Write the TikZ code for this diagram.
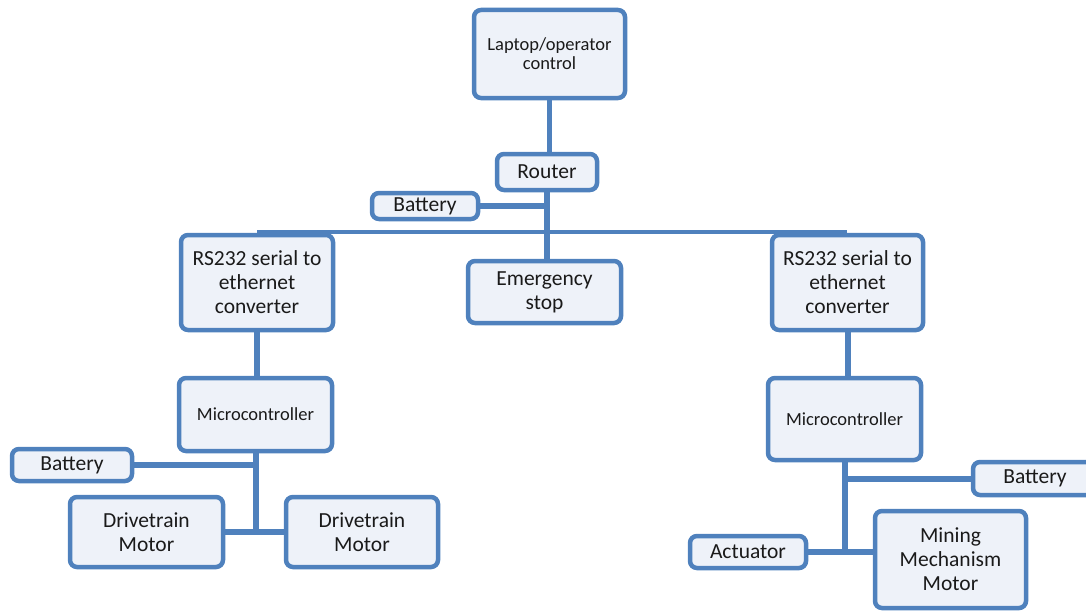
\documentclass[tikz,border=0pt]{standalone}
\usepackage{fontspec}
\setmainfont{Carlito}
\definecolor{edge}{HTML}{4F81BD}
\definecolor{boxfill}{HTML}{EEF2F9}
\definecolor{ink}{HTML}{1A1A1A}
\begin{document}
\begin{tikzpicture}[x=1pt,y=-1pt,
  box/.style={draw=edge, fill=boxfill, line width=4.5pt, rounded corners=7pt,
    align=center, text=ink, inner sep=0pt, font=\fontsize{21.5}{24}\selectfont},
  small/.style={font=\fontsize{18.5}{19}\selectfont},
  conn/.style={draw=edge, line width=6pt},
  bus/.style={draw=edge, line width=4pt}]
\useasboundingbox (0,0) rectangle (1086,610);
\clip (0,0) rectangle (1086,610);
% bus line (behind boxes)
\coordinate (busL) at (257,232);
\coordinate (busR) at (847,232);
\draw[bus] (busL) -- (busR);

\node[box, small, minimum width=151pt, minimum height=88pt] (lap) at (549.5,54) {Laptop/operator\\control};
\node[box, minimum width=100pt, minimum height=36pt] (router) at (547,172) {Router};
\node[box, minimum width=106pt, minimum height=26pt] (bat1) at (425,206) {Battery};
\node[box, minimum width=153pt, minimum height=62pt] (estop) at (544.5,292) {Emergency\\stop};
\node[box, minimum width=152pt, minimum height=95pt] (rs1) at (257,282.5) {RS232 serial to\\ethernet\\converter};
\node[box, small, minimum width=153pt, minimum height=73pt] (mc1) at (255.5,414.5) {Microcontroller};
\node[box, minimum width=120pt, minimum height=32pt] (bat2) at (72,465) {Battery};
\node[box, minimum width=153pt, minimum height=70pt] (dm1) at (146.5,532) {Drivetrain\\Motor};
\node[box, minimum width=152pt, minimum height=70pt] (dm2) at (362,532) {Drivetrain\\Motor};
\node[box, minimum width=151pt, minimum height=95pt] (rs2) at (847.5,282.5) {RS232 serial to\\ethernet\\converter};
\node[box, small, minimum width=153pt, minimum height=82pt] (mc2) at (844.5,419) {Microcontroller};
\node[box, minimum width=124pt, minimum height=33pt] (bat3) at (1035,478.5) {Battery};
\node[box, minimum width=116pt, minimum height=32pt] (act) at (748,552) {Actuator};
\node[box, minimum width=151pt, minimum height=97pt] (mm) at (950.5,559.5) {Mining\\Mechanism\\Motor};

% connectors
\draw[conn, line width=5pt] (lap.south) -- (lap.south |- router.north);
\draw[conn] (router.south) -- (router.south |- estop.north);
\draw[conn] (bat1.east) -- (bat1.east -| router.south);
\draw[conn] (rs1.south) -- (rs1.south |- mc1.north);
\draw[conn] (mc1.south) -- (mc1.south |- dm1.east);
\draw[conn] (dm1.east) -- (dm2.west);
\draw[conn] (bat2.east) -- (bat2.east -| mc1.south);
\draw[conn] (rs2.south) -- (rs2.south |- mc2.north);
\draw[conn] (mc2.south) -- (mc2.south |- act.east);
\draw[conn] (act.east) -- (act.east -| mm.west);
\draw[conn] (bat3.west) -- (bat3.west -| mc2.south);
\end{tikzpicture}
\end{document}
